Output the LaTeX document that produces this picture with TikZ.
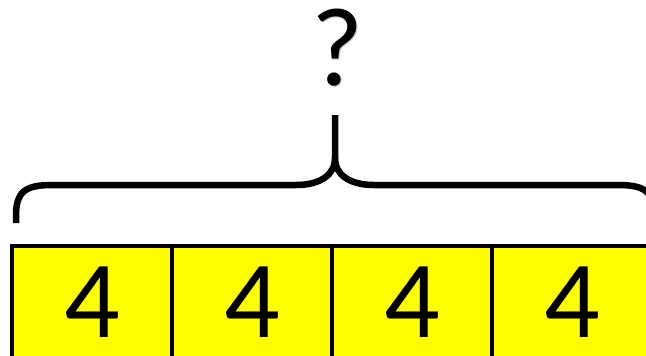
\documentclass[tikz,border=0pt]{standalone}
\usepackage{fontspec}
\setmainfont{Carlito}
\usepackage{tikz}
\usetikzlibrary{positioning,calc}
\definecolor{cellyellow}{RGB}{255,255,0}

\begin{document}
\begin{tikzpicture}[x=1pt, y=-1pt,
    % --- Box styles ---
    cell/.style={draw, line width=3.6pt, fill=cellyellow, minimum width=160pt,
                 minimum height=112pt, inner sep=0pt, outer sep=0pt},
    digit/.style={inner sep=0pt, font=\fontsize{110}{110}\selectfont},
    % --- Text styles ---
    ask/.style={inner sep=0pt, font=\fontsize{112}{112}\selectfont},
    shade/.style={ask, text=black!25},
    % --- Brace style ---
    curly/.style={line width=6.5pt, line cap=butt},
]
\useasboundingbox (0,0) rectangle (646,356);
\clip (0,0) rectangle (646,356);

% === The four cells ===
\node[cell, anchor=north west] (c1) at (12,246) {};
\node[cell, right=0pt of c1]   (c2) {};
\node[cell, right=0pt of c2]   (c3) {};
\node[cell, right=0pt of c3]   (c4) {};
\foreach \i in {1,...,4}
  \node[digit] (d\i) at (c\i) {4};

% === Brace over the cells ===
\coordinate (lt) at (16,223);
\coordinate (tip) at (335,115);
\coordinate (rt) at (654,223);
\draw[curly] (lt) -- ++(0,-8) .. controls (16,188) and (30,185) .. (54,185)
  -- (296,185) .. controls (320,185) and (335,175) .. (335,158) -- (tip);
\draw[curly] (rt) -- ++(0,-8) .. controls (654,188) and (640,185) .. (616,185)
  -- (374,185) .. controls (350,185) and (335,175) .. (335,158);

% === The unknown ===
\node[shade] (qs) at (338.5,49) {?};
\node[ask]   (q)  at (337,47.5) {?};

\end{tikzpicture}
\end{document}
